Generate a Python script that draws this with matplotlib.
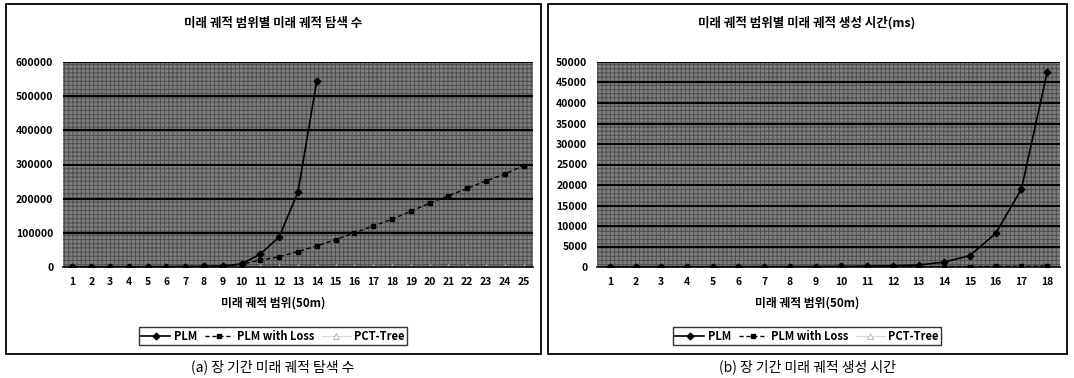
import matplotlib
matplotlib.use('Agg')
import matplotlib.pyplot as plt
from matplotlib.patches import Rectangle

plt.rcParams['font.family'] = ['Noto Sans CJK KR', 'DejaVu Sans']
plt.rcParams['hatch.linewidth'] = 0.7

# -----------------------------------------------------------------------------
# data
# -----------------------------------------------------------------------------
left_title = '미래 궤적 범위별 미래 궤적 탐색 수'
right_title = '미래 궤적 범위별 미래 궤적 생성 시간(ms)'
xlabel = '미래 궤적 범위(50m)'
caption_a = '(a) 장 기간 미래 궤적 탐색 수'
caption_b = '(b) 장 기간 미래 궤적 생성 시간'
series_names = ['PLM', 'PLM with Loss', 'PCT-Tree']

left_x = list(range(1, 26))
left_plm = [50, 100, 200, 300, 500, 800, 1200, 1800, 3000, 9000,
            38000, 88000, 220000, 545000]
left_loss = [50, 100, 200, 300, 500, 800, 1200, 1800, 3000, 8000,
             20000, 30000, 45000, 62000, 80000, 100000, 120000, 140000,
             163000, 187000, 208000, 230000, 252000, 272000, 297000]
left_pct = [20, 40, 60, 80, 100, 120, 150, 180, 200, 250,
            300, 350, 400, 450, 500, 550, 600, 650,
            700, 750, 800, 850, 900, 950, 1000]
left_yticks = [0, 100000, 200000, 300000, 400000, 500000, 600000]

right_x = list(range(1, 19))
right_plm = [5, 10, 15, 20, 30, 40, 60, 80, 110, 150, 220, 320, 500,
             1200, 2800, 8200, 19000, 47500]
right_loss = [5, 8, 10, 12, 15, 18, 20, 25, 30, 35, 40, 50, 60,
              80, 100, 130, 170, 220]
right_pct = [2, 3, 4, 5, 6, 7, 8, 9, 10, 11, 12, 13, 14,
             15, 16, 17, 18, 19]
right_yticks = list(range(0, 50001, 5000))

W, H = 1074, 378


def px_axes(fig, x0, x1, ytop, ybot):
    return fig.add_axes([x0 / W, 1 - ybot / H, (x1 - x0) / W, (ybot - ytop) / H])


def draw_chart(ax, x, plm, loss, pct, yticks):
    n = len(x)
    ax.set_xlim(0.5, n + 0.5)
    ax.set_ylim(0, yticks[-1])
    ax.set_facecolor('none')
    # dithered grey plot area of the old scan
    ax.add_patch(Rectangle((0, 0), 1, 1, transform=ax.transAxes,
                           facecolor='#7e7e7e', edgecolor='#4e4e4e',
                           hatch='++++', lw=0, zorder=0))
    for yv in yticks[1:]:
        ax.axhline(yv, color='black', lw=1.5, zorder=1)
    ax.plot(x[:len(plm)], plm, color='black', lw=1.2, marker='D', ms=3.4,
            zorder=4, label=series_names[0])
    ax.plot(x[:len(loss)], loss, color='black', lw=1.0, ls=(0, (3, 2)),
            marker='s', ms=3.4, zorder=3, label=series_names[1])
    ax.plot(x[:len(pct)], pct, color='#d8d8d8', lw=0.9, marker='^', ms=3.8,
            mfc='white', mec='#aaaaaa', mew=0.6, zorder=2, label=series_names[2])
    ax.set_xticks(x)
    ax.set_xticklabels([str(v) for v in x])
    ax.set_yticks(yticks)
    ax.set_yticklabels([str(v) for v in yticks])
    ax.tick_params(length=0, labelsize=7.5, pad=7)
    for lab in ax.get_xticklabels() + ax.get_yticklabels():
        lab.set_fontweight('bold')
    for s in ['top', 'right', 'left']:
        ax.spines[s].set_visible(False)
    ax.spines['bottom'].set_linewidth(1.2)


fig = plt.figure(figsize=(W / 100, H / 100), dpi=100)

ax1 = px_axes(fig, 63, 533, 62, 267)
draw_chart(ax1, left_x, left_plm, left_loss, left_pct, left_yticks)
ax2 = px_axes(fig, 597, 1060, 62, 267)
draw_chart(ax2, right_x, right_plm, right_loss, right_pct, right_yticks)

# panel frames
for x0, x1 in [(6, 541), (548, 1067)]:
    fig.patches.append(Rectangle((x0 / W, 1 - 354 / H), (x1 - x0) / W, 350 / H,
                                 transform=fig.transFigure, fill=False,
                                 ec='black', lw=1.3))

for cx, title, cap, ax in [(273, left_title, caption_a, ax1),
                           (807, right_title, caption_b, ax2)]:
    fig.text(cx / W, 1 - 23 / H, title, ha='center', va='center',
             fontsize=9, fontweight='bold')
    fig.text(cx / W, 1 - 303 / H, xlabel, ha='center', va='center',
             fontsize=8.5, fontweight='bold')
    fig.text(cx / W, 1 - 367 / H, cap, ha='center', va='center', fontsize=10)
    h, l = ax.get_legend_handles_labels()
    leg = fig.legend(h, l, loc='center', bbox_to_anchor=(cx / W, 1 - 336 / H),
                     ncol=3, frameon=True, fancybox=False, edgecolor='black',
                     prop={'size': 8, 'weight': 'bold'}, handlelength=2.6,
                     handletextpad=0.3, columnspacing=0.7, borderpad=0.25,
                     borderaxespad=0)
    leg.get_frame().set_linewidth(1.0)

fig.savefig('out.png', dpi=100)
